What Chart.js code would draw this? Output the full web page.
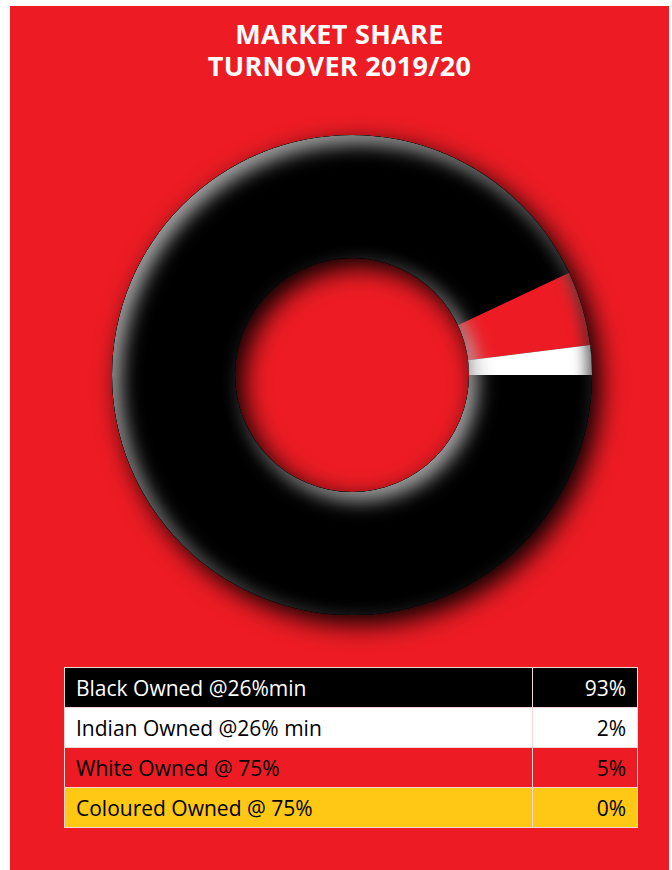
<!DOCTYPE html>
<html>
<head>
<meta charset="utf-8">
<script src="https://cdn.jsdelivr.net/npm/chart.js@4/dist/chart.umd.min.js"></script>
<style>
html,body{margin:0;padding:0;background:#ffffff;width:672px;height:870px;overflow:hidden;}
#panel{position:absolute;left:10px;top:6px;width:659px;height:864px;background:#ED1C24;}
#title{position:absolute;left:10px;top:18px;width:659px;margin:0;text-align:center;color:#ffffff;
  font-family:'Open Sans',sans-serif;font-weight:700;font-size:27px;line-height:32px;letter-spacing:0.3px;}
#wrap{position:absolute;left:72px;top:95px;width:560px;height:560px;}
#tbl{position:absolute;left:64px;top:667px;border-collapse:collapse;font-family:'Open Sans',sans-serif;font-size:21px;}
#tbl td{height:39px;border:1px solid #f4d6d6;padding:2px 11px 0 11px;line-height:37px;white-space:nowrap;box-sizing:border-box;}
#tbl td.c1{width:468px;text-align:left;}
#tbl td.c2{width:105px;text-align:right;}
#tbl tr{height:40px;}
</style>
</head>
<body>
<div id="panel"></div>
<h1 id="title">MARKET SHARE<br>TURNOVER 2019/20</h1>
<div id="wrap"><canvas id="c" width="560" height="560"></canvas></div>
<table id="tbl"></table>
<script>
// ---- data ----
const categories = ['Black Owned @26%min', 'Indian Owned @26% min', 'White Owned @ 75%', 'Coloured Owned @ 75%'];
const shares = [93, 2, 5, 0];
const valueLabels = ['93%', '2%', '5%', '0%'];
const fillColours = ['#000000', '#FFFFFF', '#ED1C24', '#FEC815'];
const textColours = ['#FFFFFF', '#000000', '#000000', '#000000'];
const ringOrder = [0, 2, 1, 3]; // clockwise order of slices in the ring

// ---- table ----
const tbl = document.getElementById('tbl');
categories.forEach((cat, i) => {
  const tr = document.createElement('tr');
  tr.style.background = fillColours[i];
  tr.style.color = textColours[i];
  const a = document.createElement('td'); a.className = 'c1'; a.textContent = cat;
  const b = document.createElement('td'); b.className = 'c2'; b.textContent = valueLabels[i];
  tr.appendChild(a); tr.appendChild(b); tbl.appendChild(tr);
});

// ---- 3D ring effects ----
function ringPath(ctx, x, y, ro, ri) {
  ctx.moveTo(x + ro, y);
  ctx.arc(x, y, ro, 0, Math.PI * 2);
  ctx.moveTo(x + ri, y);
  ctx.arc(x, y, ri, 0, Math.PI * 2, true);
}
function ringGeom(chart) {
  const a = chart.getDatasetMeta(0).data[0];
  return a.getProps(['x', 'y', 'innerRadius', 'outerRadius'], true);
}
const ringFx = {
  id: 'ringFx',
  beforeDatasetsDraw(chart) {
    const g = ringGeom(chart), ctx = chart.ctx;
    ctx.save();
    ctx.beginPath();
    ringPath(ctx, g.x, g.y, g.outerRadius, g.innerRadius);
    ctx.shadowColor = 'rgba(0,0,0,1)';
    ctx.shadowBlur = 26;
    ctx.shadowOffsetX = 8;
    ctx.shadowOffsetY = 9;
    ctx.fillStyle = '#000';
    ctx.fill('evenodd');
    ctx.restore();
  },
  afterDatasetsDraw(chart) {
    const g = ringGeom(chart), ctx = chart.ctx;
    const inner = (color, dx, dy, blur) => {
      ctx.save();
      ctx.beginPath();
      ringPath(ctx, g.x, g.y, g.outerRadius, g.innerRadius);
      ctx.clip('evenodd');
      ctx.beginPath();
      ctx.rect(-3000, -3000, 6000, 6000);
      ringPath(ctx, g.x, g.y, g.outerRadius, g.innerRadius);
      ctx.shadowColor = color;
      ctx.shadowBlur = blur;
      ctx.shadowOffsetX = dx;
      ctx.shadowOffsetY = dy;
      ctx.fillStyle = '#000';
      ctx.fill('evenodd');
      ctx.restore();
    };
    inner('rgba(185,185,185,0.95)', 8, 8, 20);
    inner('rgba(0,0,0,0.55)', -6, -6, 14);
  }
};

new Chart(document.getElementById('c'), {
  type: 'doughnut',
  data: {
    labels: ringOrder.map(i => categories[i]),
    datasets: [{
      data: ringOrder.map(i => shares[i]),
      backgroundColor: ringOrder.map(i => fillColours[i]),
      borderWidth: 0,
      hoverOffset: 0,
      offset: 0
    }]
  },
  options: {
    responsive: false,
    animation: false,
    rotation: 90,
    cutout: '48.75%',
    layout: { padding: 40 },
    plugins: { legend: { display: false }, tooltip: { enabled: false }, title: { display: false } },
    events: []
  },
  plugins: [ringFx]
});
</script>
</body>
</html>
